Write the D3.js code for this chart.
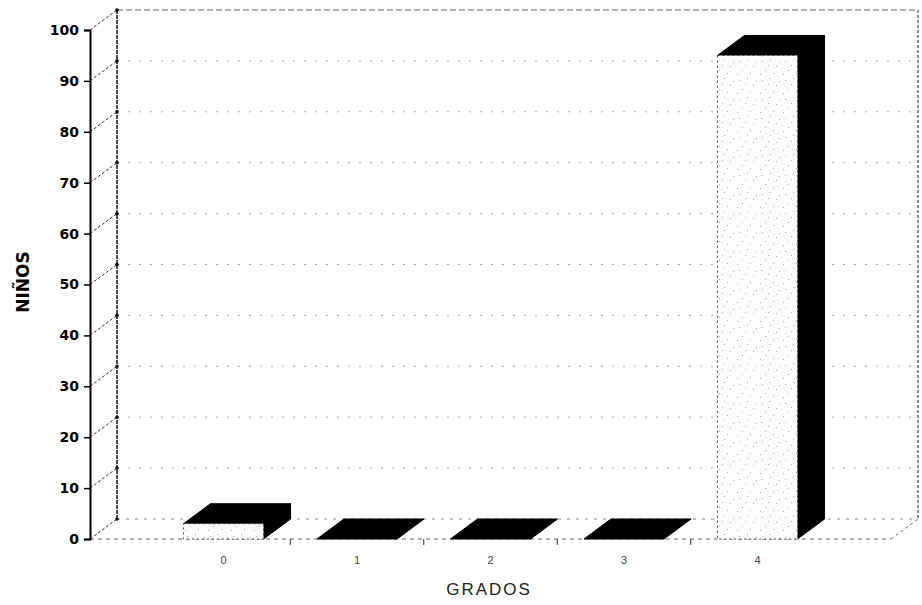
<!DOCTYPE html>
<html>
<head>
<meta charset="utf-8">
<script src="https://cdn.jsdelivr.net/npm/d3@7"></script>
<style>
  html, body { margin: 0; padding: 0; background: #fff; }
  svg { display: block; }
</style>
</head>
<body>
<svg id="chart" width="922" height="605"></svg>
<script>
// Data
const categories = ["0", "1", "2", "3", "4"];
const values = [3, 0, 0, 0, 95];
const yTicks = [0, 10, 20, 30, 40, 50, 60, 70, 80, 90, 100];
const xTitle = "GRADOS";
const yTitle = "NIÑOS";

(function () {
const svg = d3.select("#chart");

// Front plane of the 3D box and the depth offset toward the back wall
const plotLeft = 90, plotRight = 891, plotBottom = 539, plotTop = 30;
const depthX = 27, depthY = -20;

const x = d3.scalePoint().domain(categories).range([plotLeft, plotRight]).padding(1);
const y = d3.scaleLinear().domain([0, 100]).range([plotBottom, plotTop]);
const barW = x.step() * 0.6;

// Speckled fill for the bar fronts
const defs = svg.append("defs");
const pat = defs.append("pattern")
  .attr("id", "speckle").attr("patternUnits", "userSpaceOnUse")
  .attr("width", 23).attr("height", 19);
pat.append("rect").attr("width", 23).attr("height", 19).attr("fill", "#fcfcfc");
[[3,4],[11,2],[17,9],[6,13],[14,16],[20,5],[9,8],[1,17]].forEach(([px, py]) =>
  pat.append("rect").attr("x", px).attr("y", py).attr("width", 1).attr("height", 1).attr("fill", "#aaa"));

const g = svg.append("g");

// Back wall gridlines
g.selectAll("line.grid").data(yTicks.filter(t => t > 0 && t < 100)).join("line")
  .attr("class", "grid")
  .attr("x1", plotLeft + depthX).attr("x2", plotRight + depthX)
  .attr("y1", d => y(d) + depthY).attr("y2", d => y(d) + depthY)
  .attr("stroke", "#a8a8a8").attr("stroke-width", 1)
  .attr("stroke-dasharray", "2,9");

// Top edge of the back wall
g.append("line")
  .attr("x1", plotLeft + depthX).attr("x2", plotRight + depthX)
  .attr("y1", y(100) + depthY).attr("y2", y(100) + depthY)
  .attr("stroke", "#666").attr("stroke-width", 1.2).attr("stroke-dasharray", "6,3");

// Right edge of the back wall
g.append("line")
  .attr("x1", plotRight + depthX).attr("x2", plotRight + depthX)
  .attr("y1", y(100) + depthY).attr("y2", y(0) + depthY)
  .attr("stroke", "#444").attr("stroke-width", 1.2).attr("stroke-dasharray", "3,2");

// Floor: back edge, front edge, right diagonal
g.append("line")
  .attr("x1", plotLeft + depthX).attr("x2", plotRight + depthX)
  .attr("y1", y(0) + depthY).attr("y2", y(0) + depthY)
  .attr("stroke", "#888").attr("stroke-width", 1).attr("stroke-dasharray", "3,6");
g.append("line")
  .attr("x1", plotLeft).attr("x2", plotRight)
  .attr("y1", y(0)).attr("y2", y(0))
  .attr("stroke", "#666").attr("stroke-width", 1).attr("stroke-dasharray", "4,4");
g.append("line")
  .attr("x1", plotRight).attr("x2", plotRight + depthX)
  .attr("y1", y(0)).attr("y2", y(0) + depthY)
  .attr("stroke", "#666").attr("stroke-width", 1).attr("stroke-dasharray", "3,3");

// Side wall diagonals from the front axis to the back axis
g.selectAll("line.side").data(yTicks).join("line")
  .attr("class", "side")
  .attr("x1", plotLeft).attr("x2", plotLeft + depthX)
  .attr("y1", d => y(d)).attr("y2", d => y(d) + depthY)
  .attr("stroke", "#333").attr("stroke-width", 1).attr("stroke-dasharray", "3,2");

// Back vertical axis
g.append("line")
  .attr("x1", plotLeft + depthX).attr("x2", plotLeft + depthX)
  .attr("y1", y(100) + depthY).attr("y2", y(0) + depthY)
  .attr("stroke", "#111").attr("stroke-width", 1.5).attr("stroke-dasharray", "4,1");
g.selectAll("circle.bk").data(yTicks).join("circle")
  .attr("class", "bk")
  .attr("cx", plotLeft + depthX).attr("cy", d => y(d) + depthY).attr("r", 1.8)
  .attr("fill", "#111");

// Category ticks at band boundaries on the front floor edge
g.selectAll("line.xt").data(categories.slice(0, -1).map((c, i) => (x(c) + x(categories[i + 1])) / 2))
  .join("line").attr("class", "xt")
  .attr("x1", d => d).attr("x2", d => d)
  .attr("y1", y(0)).attr("y2", y(0) + 6)
  .attr("stroke", "#333").attr("stroke-width", 1);

// Bars
const bars = g.selectAll("g.bar").data(categories.map((c, i) => ({ c, v: values[i] })))
  .join("g").attr("class", "bar");

bars.each(function (d) {
  const sel = d3.select(this);
  const x0 = x(d.c) - barW / 2, x1 = x(d.c) + barW / 2;
  const yT = y(d.v), yB = y(0);
  // top face
  sel.append("path")
    .attr("d", `M${x0},${yT}L${x0 + depthX},${yT + depthY}L${x1 + depthX},${yT + depthY}L${x1},${yT}Z`)
    .attr("fill", "#000").attr("stroke", "#000").attr("stroke-width", 1);
  if (d.v > 0) {
    // side face
    sel.append("path")
      .attr("d", `M${x1},${yT}L${x1 + depthX},${yT + depthY}L${x1 + depthX},${yB + depthY}L${x1},${yB}Z`)
      .attr("fill", "#000").attr("stroke", "#000").attr("stroke-width", 1);
    // front face
    sel.append("rect")
      .attr("x", x0).attr("y", yT).attr("width", barW).attr("height", yB - yT)
      .attr("fill", "url(#speckle)")
      .attr("stroke", "#444").attr("stroke-width", 1).attr("stroke-dasharray", "2,3");
  }
});

// Front vertical axis
const yAxis = d3.axisLeft(y).tickValues(yTicks).tickSize(6).tickPadding(5).tickFormat(d3.format("d"));
const ax = svg.append("g").attr("transform", `translate(${plotLeft},0)`).call(yAxis);
ax.select(".domain").attr("stroke", "#000").attr("stroke-width", 2);
ax.selectAll(".tick line").attr("stroke", "#000").attr("stroke-width", 1.5);
ax.selectAll(".tick text")
  .attr("font-family", "DejaVu Sans, sans-serif").attr("font-weight", "bold")
  .attr("font-size", 14).attr("fill", "#000");

// Category labels
svg.selectAll("text.cat").data(categories).join("text")
  .attr("class", "cat")
  .attr("x", d => x(d)).attr("y", y(0) + 25)
  .attr("text-anchor", "middle")
  .attr("font-family", "Liberation Sans, Arial, sans-serif").attr("font-size", 11)
  .attr("fill", "#444").text(d => d);

// Axis titles
svg.append("text")
  .attr("x", 489).attr("y", 595)
  .attr("text-anchor", "middle")
  .attr("font-family", "Liberation Sans, Arial, sans-serif").attr("font-size", 17)
  .attr("letter-spacing", 2).attr("fill", "#222")
  .text(xTitle);

svg.append("text")
  .attr("transform", "translate(29,282) rotate(-90)")
  .attr("text-anchor", "middle")
  .attr("font-family", "DejaVu Sans, sans-serif").attr("font-weight", "bold")
  .attr("font-size", 17).attr("fill", "#000")
  .text(yTitle);
})();
</script>
</body>
</html>
